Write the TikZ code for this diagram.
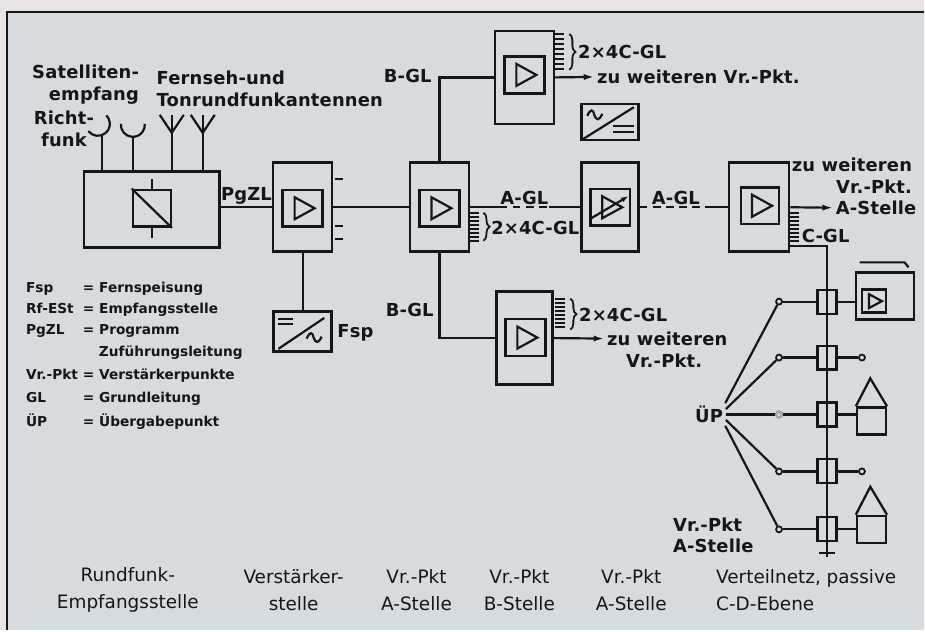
\documentclass[tikz,border=0pt]{standalone}
\usepackage{fontspec}
\setmainfont{DejaVu Sans}
\newfontfamily\labfont{DejaVu Sans}[LetterSpace=1]
\usetikzlibrary{arrows.meta,decorations.pathreplacing}
\definecolor{paper}{RGB}{213,219,222}
\definecolor{margin}{RGB}{233,227,229}
\definecolor{ink}{RGB}{22,22,22}

\tikzset{
  unit/.style={draw=ink, line width=1.5pt, minimum width=1.18cm, minimum height=1.78cm, inner sep=0pt},
  inbox/.style={draw=ink, line width=1.4pt, minimum width=0.8cm, minimum height=0.74cm, inner sep=0pt},
  framebox/.style={draw=ink, line width=1.5pt, inner sep=0pt},
  lab/.style={font=\labfont\bfseries\fontsize{10.2}{12.5}\selectfont, text=ink, inner sep=1pt},
  legend/.style={font=\bfseries\fontsize{7.8}{9}\selectfont, text=ink, inner sep=0pt, anchor=base west},
  caption/.style={font=\fontsize{10.5}{15.3}\selectfont, text=ink, align=center, inner sep=0pt},
  tapbox/.style={draw=ink, line width=1.2pt, minimum width=0.38cm, minimum height=0.48cm, inner sep=0pt},
  tapend/.style={circle, draw=ink, line width=1pt, minimum size=0.12cm, inner sep=0pt},
  house/.style={draw=ink, line width=1.3pt, minimum width=0.58cm, minimum height=0.54cm, inner sep=0pt},
  brace/.style={decorate, decoration={brace, amplitude=3.5pt}, line width=1pt},
  gldash/.style={dash pattern=on 4.5pt off 3pt},
}

\begin{document}
\begin{tikzpicture}[x=0.02cm, y=-0.02cm, line width=1.25pt, color=ink,
    >={Latex[length=6pt,width=3.5pt]}]
  % paper and frame
  \fill[margin] (0,0) rectangle (925,631);
  \fill[paper] (7,12) rectangle (925,631);
  \draw[line width=1.3pt] (7,631) -- (7,12) -- (925,12);
  \useasboundingbox (0,0) rectangle (925,631);

  % Rundfunk-Empfangsstelle
  \node[framebox, minimum width=2.72cm, minimum height=1.52cm] (rfe) at (152,210) {};
  \node[inbox, minimum width=0.76cm] (conv) at (152,208.5) {};
  \draw (conv.north west) -- (conv.south east);
  \draw (conv.north) -- ++(0,-10);
  \draw (conv.south) -- ++(0,10);

  % antennas
  \draw (98,124) ++(143:12) arc[start angle=143, end angle=-45, radius=12];
  \draw (102,136) -- (102,172);
  \draw (133,125) ++(185:12) arc[start angle=185, end angle=-5, radius=12];
  \draw (133,137) -- (133,172);
  \foreach \x in {172,203} {
    \draw (\x,115) -- (\x,172);
    \draw (\x-12,115) -- (\x,133) -- (\x+12,115);
  }
  \node[lab, align=right, anchor=east] (sat) at (142,85) {Satelliten-\\empfang};
  \node[lab, align=center] (richt) at (64,129) {Richt-\\funk};
  \node[lab, align=left, anchor=west] (tvant) at (154,89) {Fernseh-und\\Tonrundfunkantennen};

  % Verstaerkerstelle
  \node[unit] (vst) at (303,207.5) {};
  \node[inbox] (i1) at (303,208.5) {};
  \draw (rfe.east |- vst.west) -- (vst.west) node[lab, midway, above] (pgzl) {PgZL};
  \foreach \y in {179,226,239}
    \draw (335,\y) -- (343,\y);

  % Fernspeisung
  \node[framebox, minimum width=1.16cm, minimum height=0.8cm] (fsp) at (303,332) {};
  \draw (vst.south) -- (fsp.north);
  \draw (278,319) -- (293,319) (278,324) -- (293,324);
  \draw (fsp.south west) ++(6,-4) -- ++(46,-31);
  \draw (307,339) .. controls (310,332) and (313,332) .. (314,338)
    .. controls (316,344) and (319,344) .. (322,337);
  \node[lab, anchor=west] (fsplab) at (335,333) {Fsp};

  % Vr.-Pkt A-Stelle
  \node[unit] (ap1) at (440,207.5) {};
  \node[inbox] (i2) at (440,208.5) {};
  \draw (vst.east) -- (ap1.west);
  \foreach \y in {213,217,...,241}
    \draw (471,\y) -- (480,\y);
  \draw[brace] (484,213) -- (484,241);
  \node[lab, anchor=west] (c2a) at (489,228) {2×4C-GL};

  % upper B-Stelle
  \node[unit, minimum height=1.86cm] (bt) at (525,77.5) {};
  \node[inbox] (i3) at (525,75) {};
  \draw (ap1.north) |- (bt.west);
  \node[lab, anchor=east] (bgl1) at (435,76) {B-GL};
  \foreach \y in {34,39,...,69}
    \draw (556,\y) -- (565,\y);
  \draw[brace] (570,34) -- (570,70);
  \node[lab, anchor=west] (c2b) at (576,52) {2×4C-GL};
  \node[lab, anchor=west] (zt) at (595,77) {zu weiteren Vr.-Pkt.};
  \draw[->] (bt.east) -- (zt.west);

  % rectifier
  \node[framebox, minimum width=1.14cm, minimum height=0.72cm] (rect) at (610.5,122) {};
  \draw (rect.south west) ++(3,-2) -- ++(51,-32);
  \draw (588,116) .. controls (591,109) and (594,109) .. (595,115)
    .. controls (597,121) and (600,121) .. (603,114);
  \draw (614,126) -- (635,126) (614,132) -- (635,132);

  % lower B-Stelle
  \node[unit, minimum height=1.86cm, minimum width=1.12cm] (bb) at (525,338.5) {};
  \node[inbox] (i4) at (526,338) {};
  \draw (ap1.south) |- (bb.west);
  \node[lab, anchor=east] (bgl2) at (437,310) {B-GL};
  \foreach \y in {299,303,...,327}
    \draw (556,\y) -- (566,\y);
  \draw[brace] (571,299) -- (571,330);
  \node[lab, anchor=west] (c2c) at (577,315) {2×4C-GL};
  \node[lab, anchor=west] (zb1) at (605,339) {zu weiteren};
  \node[lab] (zb2) at (665,361) {Vr.-Pkt.};
  \draw[->] (bb.east) -- (zb1.west);

  % Vr.-Pkt B-Stelle
  \node[unit, minimum width=1.14cm] (bp) at (610.5,207.5) {};
  \node[inbox] (i5) at (611,207.5) {};
  \draw[-{Latex[length=4pt,width=3pt]}] (i5.center) ++(-19,11) -- ++(37,-22);
  \coordinate (g1) at (500,207.5);
  \coordinate (g2) at (550,207.5);
  \draw (ap1.east) -- (g1);
  \draw[gldash] (g1) -- (g2) node[lab, midway, above] (agl1) {A-GL};
  \draw (g2) -- (bp.west);

  % Vr.-Pkt A-Stelle (right)
  \node[unit, minimum width=1.2cm] (ap2) at (760,207.5) {};
  \node[inbox, minimum width=0.76cm] (i6) at (761,206) {};
  \coordinate (g3) at (713,207.5);
  \draw[gldash] (bp.east) -- (g3) node[lab, midway, above] (agl2) {A-GL};
  \draw (g3) -- (ap2.west);
  \node[lab, align=right, anchor=east] (zr) at (916,176) {zu weiteren\\Vr.-Pkt.};
  \node[lab, anchor=west] (ast) at (834,208) {A-Stelle};
  \draw[->] (ap2.east) -- (ast.west);
  \foreach \y in {213,217,...,241}
    \draw (791,\y) -- (800,\y);
  \node[lab, anchor=west] (cgl) at (800,236) {C-GL};

  % amplifier triangles
  \foreach \n in {i1,i2,i3,i4,i5,i6}
    \draw (\n.center) ++(-8,-11) -- ++(0,22) -- ++(20,-11) -- cycle;

  % distribution net
  \coordinate (bustop) at (828,246);
  \coordinate (busend) at (828,558);
  \draw (ap2.east |- bustop) -- (bustop) -- (busend);
  \draw (820,554) -- (836,554);
  \foreach \n/\y in {1/302, 2/358, 3/415, 4/472, 5/530} {
    \node[tapbox] (t\n) at (828,\y) {};
    \node[tapend] (c\n) at (780,\y) {};
    \draw (c\n) -- (t\n.west);
  }
  \node[tapend, draw=ink!35] (c3) at (780,415) {};
  \node[lab] (up) at (710,415) {ÜP};
  \foreach \n/\a in {1/35, 2/18, 4/-18, 5/-35}
    \draw (up.\a) -- (c\n);
  \draw (up.east) -- (c3);

  % subscribers
  \node[framebox, minimum width=1.16cm, minimum height=0.94cm] (tv) at (886,296.5) {};
  \draw (tv.north west) ++(5,-9) -- ++(45,0) -- ++(4,5);
  \node[inbox, minimum width=0.48cm, minimum height=0.46cm] (i7) at (875,301.5) {};
  \draw (i7.center) ++(-5,-7) -- ++(0,14) -- ++(13,-7) -- cycle;
  \draw (t1.east) -- (t1.east -| tv.west);
  \node[tapend] (e2) at (863,358) {};
  \draw (t2.east) -- (e2);
  \node[tapend] (e4) at (863,472) {};
  \draw (t4.east) -- (e4);
  \node[house] (h3) at (872.5,421.5) {};
  \draw[line width=1.3pt] (h3.north west) -- ++(14.5,-28) -- (h3.north east);
  \draw (t3.east) -- (t3.east -| h3.west);
  \node[house] (h5) at (872.5,530) {};
  \draw[line width=1.3pt] (h5.north west) -- ++(14.5,-28) -- (h5.north east);
  \draw (t5.east) -- (t5.east -| h5.west);
  \node[lab, align=left, anchor=west] (vra) at (671,536) {Vr.-Pkt\\A-Stelle};

  % legend
  \foreach \y/\abbr/\txt [count=\i] in {293/Fsp/Fernspeisung, 314/Rf-ESt/Empfangsstelle,
      335/PgZL/Programm, 380/Vr.-Pkt/Verstärkerpunkte, 403/GL/Grundleitung,
      427/ÜP/Übergabepunkt} {
    \node[legend] (ab\i) at (25,\y) {\abbr};
    \node[legend] (eq\i) at (82,\y) {= \txt};
  }
  \node[legend] (zfl) at (98,357) {Zuführungsleitung};

  % captions
  \node[caption] (k1) at (128,591) {Rundfunk-\\Empfangsstelle};
  \node[caption] (k2) at (294,591) {Verstärker-\\stelle};
  \node[caption] (k3) at (417,591) {Vr.-Pkt\\A-Stelle};
  \node[caption] (k4) at (520,591) {Vr.-Pkt\\B-Stelle};
  \node[caption] (k5) at (632,591) {Vr.-Pkt\\A-Stelle};
  \node[caption, align=left, anchor=west] (k6) at (716,591) {Verteilnetz, passive\\C-D-Ebene};
\end{tikzpicture}
\end{document}
